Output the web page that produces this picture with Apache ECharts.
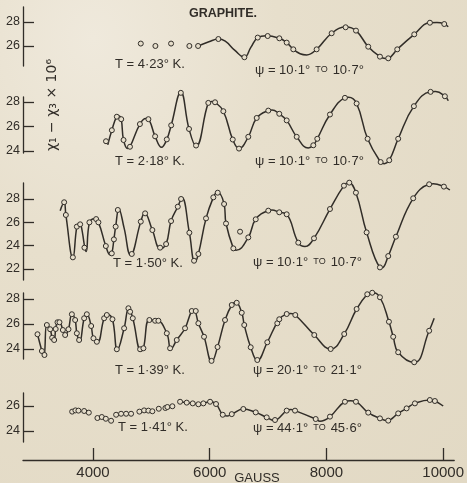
<!DOCTYPE html>
<html>
<head>
<meta charset="utf-8">
<script src="https://cdn.jsdelivr.net/npm/echarts@6/dist/echarts.min.js"></script>
<style>
  html, body { margin: 0; padding: 0; }
  #main {
    width: 467px; height: 483px;
    background: radial-gradient(ellipse at 20% 8%, #efe9dc 0%, #e7dfcc 35%, #e2d9c4 100%);
  }
</style>
</head>
<body>
<div id="main"></div>
<script>
// susceptibility anisotropy (chi1 - chi3) x 1e6 against field in gauss
const xTicks = [4000, 6000, 8000, 10000];

// T = 4.23 K, psi = 10.1 - 10.7
const p1Ticks = [26, 28];
const p1Circles = [[4815,26.2],[5065,26.0],[5333,26.2],[5646,26.0],[5795,26.0],[6142,26.58],[6587,25.06],[6815,26.7],[6986,26.83],[7185,26.64],[7311,26.28],[7424,25.72],[7823,25.72],[8080,27.06],[8319,27.56],[8496,27.28],[8706,25.94],[8906,25.11],[9048,24.97],[9202,25.72],[9493,26.97],[9761,27.94],[10006,27.83]];
const p1Curve = [[5795,26.0],[5980,26.35],[6142,26.58],[6260,26.4],[6420,25.65],[6587,25.06],[6700,25.9],[6815,26.7],[6960,26.85],[7185,26.64],[7311,26.28],[7424,25.72],[7540,25.35],[7653,25.25],[7823,25.72],[8080,27.06],[8330,27.58],[8496,27.28],[8706,25.94],[8906,25.11],[9000,24.95],[9048,24.97],[9202,25.72],[9493,26.97],[9761,27.94],[9880,27.95],[10006,27.83],[10074,27.6]];

// T = 2.18 K, psi = 10.1 - 10.7
const p2Ticks = [24, 26, 28];
const p2Circles = [[4220,24.8],[4320,25.7],[4405,26.8],[4480,26.6],[4520,24.9],[4630,24.35],[4800,26.2],[4945,26.6],[5060,25.2],[5260,24.95],[5335,26.1],[5500,28.75],[5640,25.8],[5760,24.45],[5970,27.93],[6085,27.98],[6227,27.25],[6388,24.94],[6495,24.2],[6654,25.16],[6798,26.7],[6996,27.3],[7184,27.04],[7311,26.5],[7482,25.16],[7766,24.47],[7834,25.0],[8051,26.98],[8307,28.34],[8507,27.88],[8695,25.0],[8918,23.1],[9065,23.25],[9218,25.0],[9487,27.66],[9772,28.83],[10017,28.47]];
const p2Curve = [[4250,24.5],[4320,25.7],[4405,26.8],[4440,26.85],[4480,26.6],[4520,24.9],[4590,24.2],[4630,24.35],[4800,26.2],[4900,26.65],[4945,26.6],[5060,25.2],[5170,24.3],[5260,24.95],[5335,26.1],[5500,28.8],[5640,25.8],[5760,24.4],[5970,27.93],[6030,28.05],[6085,27.98],[6227,27.25],[6388,24.94],[6495,24.2],[6654,25.16],[6798,26.7],[6996,27.3],[7060,27.35],[7184,27.04],[7311,26.5],[7482,25.16],[7680,24.25],[7766,24.47],[7834,25.0],[8051,26.98],[8307,28.34],[8370,28.38],[8507,27.88],[8695,25.0],[8918,23.1],[8980,22.97],[9065,23.25],[9218,25.0],[9487,27.66],[9772,28.83],[9860,28.85],[10017,28.47],[10075,28.1]];

// T = 1.50 K, psi = 10.1 - 10.7
const p3Ticks = [22, 24, 26, 28];
const p3Circles = [[3504,27.72],[3533,26.63],[3653,23.0],[3721,25.63],[3778,25.83],[3851,23.83],[3936,26.0],[4051,26.28],[4090,26.0],[4217,23.97],[4319,23.34],[4355,24.54],[4385,25.63],[4422,27.06],[4661,23.29],[4815,26.06],[4889,26.77],[5013,25.34],[5145,23.83],[5248,24.14],[5333,26.11],[5448,27.34],[5504,28.0],[5646,25.11],[5726,22.71],[5800,23.29],[5931,26.34],[6056,28.14],[6131,28.54],[6240,27.57],[6273,25.9],[6398,23.77],[6513,25.2],[6654,24.71],[6781,26.26],[6996,27.0],[7184,26.86],[7311,26.69],[7509,24.26],[7778,24.63],[8051,27.14],[8290,29.14],[8381,29.4],[8495,28.54],[8678,25.14],[8906,22.14],[9048,23.11],[9179,24.77],[9475,28.06],[9748,29.26],[10000,29.06]];
const p3Curve = [[3436,27.0],[3504,27.72],[3533,26.63],[3653,22.95],[3721,25.63],[3760,25.9],[3790,25.8],[3880,23.5],[3936,25.95],[4020,26.3],[4090,26.0],[4217,23.97],[4290,23.22],[4319,23.34],[4355,24.54],[4385,25.63],[4440,27.15],[4530,25.5],[4640,23.2],[4815,26.06],[4880,26.8],[5013,25.34],[5150,23.72],[5248,24.14],[5333,26.11],[5448,27.34],[5520,28.1],[5646,25.11],[5740,22.6],[5800,23.29],[5931,26.34],[6056,28.14],[6120,28.6],[6240,27.57],[6273,25.9],[6398,23.77],[6444,23.6],[6654,24.71],[6781,26.26],[6996,27.0],[7060,27.05],[7184,26.86],[7311,26.69],[7509,24.26],[7624,23.92],[7778,24.63],[8051,27.14],[8290,29.14],[8370,29.42],[8495,28.54],[8678,25.14],[8906,22.14],[8940,22.1],[9048,23.11],[9179,24.77],[9475,28.06],[9748,29.26],[9820,29.3],[10000,29.06],[10102,28.77]];

// T = 1.39 K, psi = 20.1 - 21.1
const p4Ticks = [24, 26, 28];
const p4Circles = [[3048,25.18],[3123,23.84],[3167,23.52],[3208,25.92],[3265,25.58],[3299,24.9],[3333,24.72],[3359,25.6],[3390,26.14],[3424,26.14],[3482,25.52],[3521,25.12],[3578,25.58],[3636,26.78],[3692,26.32],[3721,25.26],[3760,24.72],[3846,26.46],[3892,26.78],[3966,25.84],[4005,24.86],[4063,24.58],[4188,26.46],[4234,26.72],[4330,26.38],[4405,23.98],[4530,25.66],[4603,27.26],[4632,26.98],[4678,26.46],[4803,23.98],[4860,24.06],[4962,26.32],[5060,26.26],[5116,26.26],[5260,25.26],[5316,24.06],[5430,24.72],[5572,25.66],[5687,27.04],[5755,27.04],[5800,26.06],[5897,24.98],[6025,23.05],[6128,24.16],[6256,26.32],[6371,27.52],[6456,27.7],[6542,26.9],[6585,25.92],[6695,24.14],[6808,23.12],[6979,24.54],[7150,26.06],[7184,26.38],[7311,26.8],[7458,26.72],[7783,25.12],[8063,24.0],[8295,25.2],[8507,27.2],[8689,28.38],[8774,28.5],[8906,28.14],[9060,26.18],[9133,24.98],[9218,23.74],[9492,22.94],[9748,25.46]];
const p4Curve = [[3048,25.18],[3123,23.84],[3150,23.45],[3167,23.52],[3208,25.92],[3265,25.58],[3299,24.9],[3333,24.72],[3359,25.6],[3390,26.14],[3424,26.14],[3482,25.52],[3521,25.12],[3578,25.58],[3636,26.78],[3692,26.32],[3721,25.26],[3770,24.62],[3846,26.46],[3892,26.78],[3966,25.84],[4005,24.86],[4075,24.55],[4188,26.46],[4250,26.75],[4330,26.38],[4415,23.95],[4530,25.66],[4610,27.3],[4678,26.46],[4820,23.85],[4860,24.06],[4962,26.32],[5090,26.3],[5260,25.26],[5330,24.0],[5430,24.72],[5572,25.66],[5687,27.04],[5725,27.1],[5800,26.06],[5897,24.98],[6030,22.98],[6128,24.16],[6256,26.32],[6371,27.52],[6440,27.75],[6542,26.9],[6585,25.92],[6695,24.14],[6808,23.08],[6979,24.54],[7184,26.38],[7311,26.8],[7380,26.85],[7458,26.72],[7783,25.12],[8063,24.0],[8295,25.2],[8507,27.2],[8689,28.38],[8774,28.52],[8906,28.14],[9060,26.18],[9133,24.98],[9218,23.74],[9492,22.92],[9748,25.46],[9834,26.46]];

// T = 1.41 K, psi = 44.1 - 45.6
const p5Ticks = [24, 26];
const p5Circles = [[3641,25.55],[3697,25.65],[3748,25.63],[3846,25.6],[3926,25.47],[4073,25.04],[4148,25.12],[4217,24.98],[4307,24.82],[4393,25.3],[4478,25.38],[4564,25.38],[4649,25.38],[4791,25.55],[4872,25.65],[4945,25.63],[5013,25.58],[5123,25.78],[5236,25.84],[5270,25.92],[5355,25.98],[5487,26.34],[5601,26.27],[5704,26.21],[5800,26.14],[5885,26.21],[6000,26.34],[6102,26.16],[6217,25.3],[6371,25.35],[6569,25.76],[6781,25.49],[6969,25.09],[7111,24.88],[7311,25.63],[7453,25.63],[7807,24.96],[8051,25.15],[8307,26.34],[8495,26.34],[8706,25.47],[8906,25.01],[9048,24.83],[9218,25.41],[9362,25.81],[9504,26.21],[9760,26.48],[9846,26.4]];
const p5Curve = [[5487,26.34],[5601,26.27],[5704,26.21],[5800,26.14],[5885,26.21],[6000,26.34],[6102,26.16],[6217,25.3],[6290,25.2],[6371,25.35],[6569,25.76],[6781,25.49],[6969,25.09],[7090,24.85],[7311,25.63],[7382,25.72],[7453,25.63],[7807,24.96],[7880,24.78],[8051,25.15],[8307,26.34],[8400,26.42],[8495,26.34],[8706,25.47],[8906,25.01],[9030,24.83],[9218,25.41],[9362,25.81],[9504,26.21],[9760,26.48],[9846,26.4],[9988,26.0]];

const INK = '#312d28';
const PAPER = '#e6decb';
const X_MIN = 2800, X_MAX = 10190;

const panels = [
  { top: 7,   height: 59, min: 24.33, max: 29.25, ticks: p1Ticks, circles: p1Circles, curve: p1Curve },
  { top: 97,  height: 56, min: 23.84, max: 28.41, ticks: p2Ticks, circles: p2Circles, curve: p2Curve },
  { top: 183, height: 97, min: 21.06, max: 29.37, ticks: p3Ticks, circles: p3Circles, curve: p3Curve },
  { top: 293, height: 66, min: 23.2,  max: 28.48, ticks: p4Ticks, circles: p4Circles, curve: p4Curve },
  { top: 393, height: 49, min: 23.12, max: 27.04, ticks: p5Ticks, circles: p5Circles, curve: p5Curve }
];

const grids = [], xAxes = [], yAxes = [], series = [];
panels.forEach(function (p, i) {
  grids.push({ left: 23, width: 432, top: p.top, height: p.height });
  xAxes.push({ gridIndex: i, type: 'value', min: X_MIN, max: X_MAX, show: false });
  yAxes.push({
    gridIndex: i, type: 'value', min: p.min, max: p.max,
    axisLine: { show: true, lineStyle: { color: INK, width: 1.3 } },
    axisTick: { show: true, inside: true, length: 11, customValues: p.ticks, lineStyle: { color: INK, width: 1.3 } },
    axisLabel: { customValues: p.ticks, color: INK, fontSize: 12.5, margin: 3, fontFamily: 'Liberation Sans' },
    splitLine: { show: false }
  });
  series.push({
    type: 'line', xAxisIndex: i, yAxisIndex: i, data: p.curve,
    smooth: 0.45, showSymbol: false, clip: false,
    lineStyle: { color: INK, width: 1.5 }, z: 2
  });
  series.push({
    type: 'scatter', xAxisIndex: i, yAxisIndex: i, data: p.circles,
    symbol: 'circle', symbolSize: 5, clip: false,
    itemStyle: { color: PAPER, borderColor: INK, borderWidth: 1, opacity: 1 }, z: 3
  });
});

// shared field axis at the bottom
grids.push({ left: 23, width: 432, top: 448, height: 12 });
xAxes.push({
  gridIndex: 5, type: 'value', min: X_MIN, max: X_MAX,
  axisLine: { show: true, lineStyle: { color: INK, width: 1.3 } },
  axisTick: { show: true, inside: true, length: 12, customValues: xTicks, lineStyle: { color: INK, width: 1.3 } },
  axisLabel: { customValues: xTicks, color: INK, fontSize: 15, margin: 5, fontFamily: 'Liberation Sans', formatter: function (v) { return String(v); } },
  splitLine: { show: false }
});
yAxes.push({ gridIndex: 5, type: 'value', show: false });

const txt = { fill: INK, font: '13px "Liberation Sans"', textVerticalAlign: 'middle' };
function label(x, y, text) {
  return { type: 'text', x: x, y: y, style: Object.assign({ text: text }, txt) };
}
function psi(x, y, a, b) {
  return {
    type: 'text', x: x, y: y,
    style: {
      text: '{m|ψ = ' + a + '}{s|  TO  }{m|' + b + '}',
      fill: INK, textVerticalAlign: 'middle',
      rich: {
        m: { fontSize: 13, fontFamily: 'Liberation Sans', fill: INK },
        s: { fontSize: 9, fontFamily: 'Liberation Sans', fill: INK }
      }
    }
  };
}

const option = {
  animation: false,
  grid: grids,
  xAxis: xAxes,
  yAxis: yAxes,
  series: series,
  graphic: [
    { type: 'text', x: 223, y: 14, style: { text: 'GRAPHITE.', fill: INK, font: 'bold 12.5px "Liberation Sans"', textAlign: 'center', textVerticalAlign: 'middle' } },
    { type: 'text', x: 52, y: 105, rotation: Math.PI / 2,
      style: { text: 'χ₁ − χ₃ × 10⁶', fill: INK, font: '14px "DejaVu Sans"', textAlign: 'center', textVerticalAlign: 'middle' } },
    label(115, 64, 'T = 4·23° K.'),
    psi(255, 70, '10·1°', '10·7°'),
    label(115, 161, 'T = 2·18° K.'),
    psi(255, 161, '10·1°', '10·7°'),
    label(113, 263, 'T = 1·50° K.'),
    psi(253, 262, '10·1°', '10·7°'),
    label(115, 370, 'T = 1·39° K.'),
    psi(253, 370, '20·1°', '21·1°'),
    label(118, 427, 'T = 1·41° K.'),
    psi(253, 428, '44·1°', '45·6°'),
    { type: 'text', x: 257, y: 478, style: { text: 'GAUSS', fill: INK, font: '13px "Liberation Sans"', textAlign: 'center', textVerticalAlign: 'middle' } }
  ]
};

const myChart = echarts.init(document.getElementById('main'));
myChart.setOption(option);
window.onresize = function () { myChart.resize(); };
</script>
</body>
</html>
